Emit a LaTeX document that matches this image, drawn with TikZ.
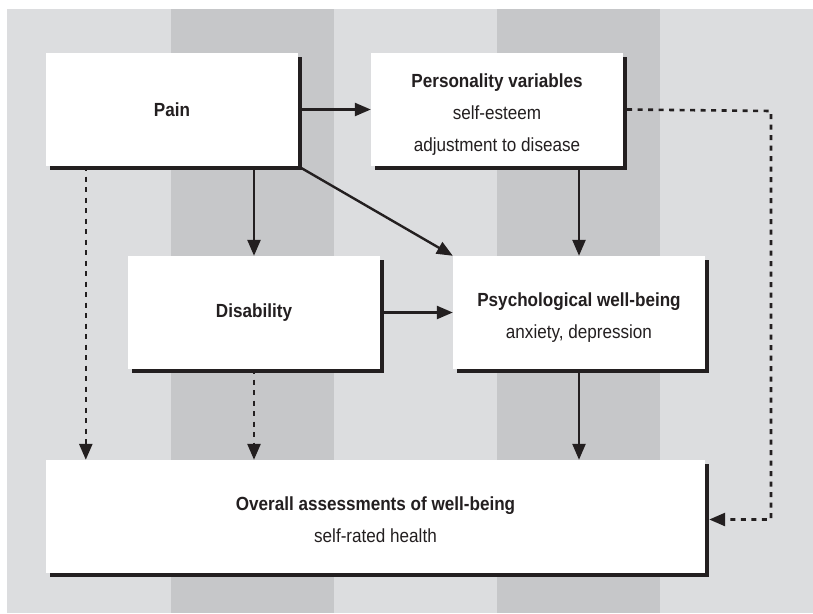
\documentclass[tikz,border=0pt]{standalone}
\usepackage{fontspec}
\setmainfont{Liberation Sans}[FakeStretch=0.9]
\usetikzlibrary{arrows.meta,shadows}
\definecolor{lightbg}{HTML}{DCDDDF}
\definecolor{darkbg}{HTML}{C6C7C9}
\definecolor{ink}{HTML}{231F20}
\newcommand{\boxlines}[1]{\raisebox{-4pt}[\height][\depth]{\begin{tabular}{@{}c@{}}#1\end{tabular}}}
\begin{document}
\begin{tikzpicture}[x=1pt,y=-1pt,
    box/.style={fill=white, minimum width=252pt, minimum height=113pt,
        inner sep=0pt, font=\fontsize{19}{32}\selectfont, text=ink,
        drop shadow={shadow xshift=4pt, shadow yshift=-4pt, fill=ink, opacity=1}},
    arr/.style={draw=ink, line width=2.4pt, -{Triangle[length=16pt,width=13pt]}},
    darr/.style={arr, line width=2.6pt, dash pattern=on 5pt off 5.5pt}]
\useasboundingbox (0,0) rectangle (813,613);
\fill[lightbg] (7,9) rectangle (813,613);
\foreach \x in {171,497}
{
    \fill[darkbg] (\x,9) rectangle (\x+163,613);
}

\node[box] (pain) at (172,109.5){\textbf{Pain}};
\node[box] (pers) at (497,109.5){\boxlines{\textbf{Personality variables}\\self-esteem\\adjustment to disease}};
\node[box] (dis) at (254,312.5){\textbf{Disability}};
\node[box] (psych) at (579,312.5){\boxlines{\textbf{Psychological well-being}\\anxiety, depression}};
\node[box, minimum width=659pt] (overall) at (375.5,516.5){\boxlines{\textbf{Overall assessments of well-being}\\self-rated health}};
\coordinate (bend) at (771,111);

\draw[arr](pain.east)--(pers.west);
\draw[arr](dis.north |- pain.south)--(dis.north);
\draw[arr](pain.south east)--(psych.north west);
\draw[arr](psych.north |- pers.south)--(psych.north);
\draw[arr](dis.east)--(psych.west);
\draw[arr](psych.south)--(psych.south |- overall.north);

\draw[darr]([xshift=40pt]pain.south west)--([xshift=40pt]pain.south west |- overall.north);
\draw[darr](dis.south)--(dis.south |- overall.north);
\draw[darr]([xshift=4pt]pers.east)--(bend) |- ([xshift=4pt,yshift=-3pt]overall.east);

\end{tikzpicture}
\end{document}
